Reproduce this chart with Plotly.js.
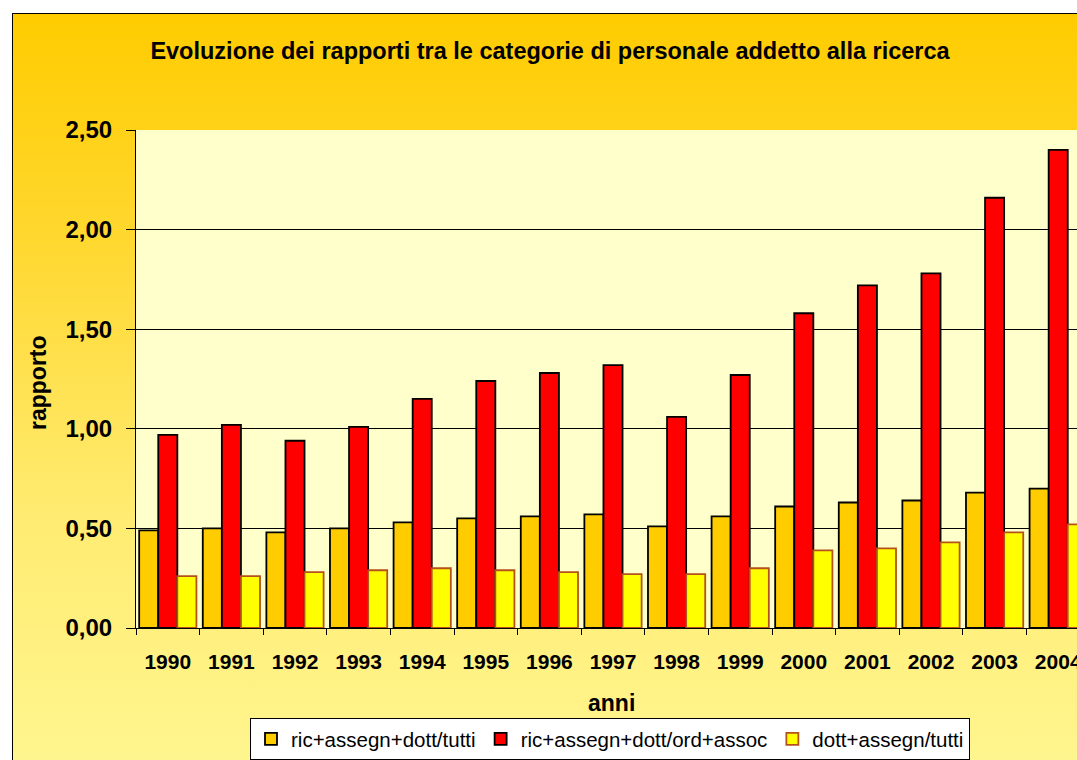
<!DOCTYPE html>
<html><head><meta charset="utf-8">
<script src="https://cdn.plot.ly/plotly-3.0.1.min.js"></script>
<style>
html,body{margin:0;padding:0;background:#fff;overflow:hidden;width:1077px;height:760px;}
#bg{position:absolute;left:12px;top:13px;width:1110px;height:760px;border-top:1.5px solid #000;border-left:1.5px solid #000;
background:linear-gradient(to bottom,#FFCC00 0%,#FFD830 30%,#FFEB70 65%,#FFF690 100%);}
#chart{position:absolute;left:0;top:0;width:1110px;height:760px;}
</style></head>
<body>
<div id="bg"></div>
<div id="chart"></div>
<script>
const years = ['1990','1991','1992','1993','1994','1995','1996','1997','1998','1999','2000','2001','2002','2003','2004'];
const ricTutti = [0.49,0.50,0.48,0.50,0.53,0.55,0.56,0.57,0.51,0.56,0.61,0.63,0.64,0.68,0.70];
const ricOrdAssoc = [0.97,1.02,0.94,1.01,1.15,1.24,1.28,1.32,1.06,1.27,1.58,1.72,1.78,2.16,2.40];
const dottTutti = [0.26,0.26,0.28,0.29,0.30,0.29,0.28,0.27,0.27,0.30,0.39,0.40,0.43,0.48,0.52];
const seriesNames = ['ric+assegn+dott/tutti','ric+assegn+dott/ord+assoc','dott+assegn/tutti'];
const yTicks = [0,0.5,1,1.5,2,2.5];

const F = 'Liberation Sans, Arial, sans-serif';
const traces = [
  {type:'bar',name:seriesNames[0],x:years,y:ricTutti,marker:{color:'#FFCC00',line:{color:'#000',width:1.8}}},
  {type:'bar',name:seriesNames[1],x:years,y:ricOrdAssoc,marker:{color:'#FF0000',line:{color:'#000',width:1.8}}},
  {type:'bar',name:seriesNames[2],x:years,y:dottTutti,marker:{color:'#FFFF00',line:{color:'#B5521B',width:1.8}}}
];
const layout = {
  width:1110,height:760,
  margin:{l:136,r:20,t:130,b:132,autoexpand:false},
  paper_bgcolor:'rgba(0,0,0,0)',plot_bgcolor:'#FFFFCC',
  separators:',.',
  barmode:'group',bargap:0.1,bargroupgap:0,
  showlegend:true,
  font:{family:F,color:'#000'},
  title:{text:'<b>Evoluzione dei rapporti tra le categorie di personale addetto alla ricerca</b>',
    font:{family:F,size:23.5,color:'#000'},xref:'container',yref:'container',x:0.4955,xanchor:'center',y:1-51/760,yanchor:'middle'},
  xaxis:{type:'category',tickson:'boundaries',ticks:'outside',ticklen:6,tickcolor:'#000',
    showline:true,linecolor:'#000',linewidth:1,showgrid:false,
    tickfont:{family:F,size:21,color:'#000',weight:'bold'},ticklabelstandoff:15,
    range:[-0.5,14.5]},
  yaxis:{range:[0,2.5],tickvals:yTicks,tickformat:'.2f',ticks:'outside',ticklen:9,tickcolor:'#000',
    showline:true,linecolor:'#000',linewidth:1,showgrid:true,gridcolor:'#000',gridwidth:1,zeroline:false,
    tickfont:{family:F,size:24,color:'#000',weight:'bold'},ticklabelstandoff:9},
  legend:{orientation:'h',x:(250-136)/954,xanchor:'left',y:(628-718)/498,yanchor:'top',
    bgcolor:'#FFFFFF',bordercolor:'#000',borderwidth:1,font:{family:F,size:20.5,color:'#000'},
    itemwidth:30,tracegroupgap:0},
  annotations:[
    {text:'<b>rapporto</b>',xref:'paper',yref:'paper',x:(38-136)/954,y:(628-383)/498,xanchor:'center',yanchor:'middle',
     textangle:-90,showarrow:false,font:{family:F,size:23,color:'#000'}},
    {text:'<b>anni</b>',xref:'paper',yref:'paper',x:(611-136)/954,y:(628-703)/498,xanchor:'center',yanchor:'middle',
     showarrow:false,font:{family:F,size:23,color:'#000'}}
  ]
};
Plotly.newPlot('chart',traces,layout,{displayModeBar:false,staticPlot:true});
</script>
</body></html>
